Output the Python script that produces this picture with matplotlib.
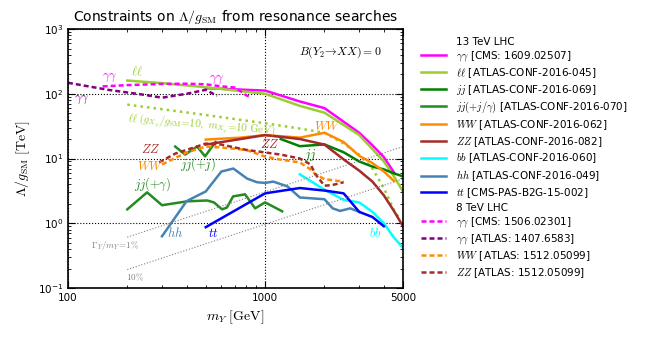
import numpy as np
import matplotlib
matplotlib.use("Agg")
import matplotlib.pyplot as plt
from matplotlib.ticker import FixedLocator, NullFormatter

plt.rcParams['mathtext.fontset'] = 'cm'
plt.rcParams['font.size'] = 7.5

# 13 TeV searches (mass in GeV, Lambda/g_SM in TeV)
aa13_m = [500, 750, 1000, 1500, 2000, 2500, 3000, 3500, 4000, 4500]
aa13_L = [122, 116, 112, 76, 60, 37, 25, 16, 10.5, 6.1]
ll13_m = [200, 300, 500, 1000, 1500, 2000, 2500, 3000, 3500, 4000, 4500, 5000]
ll13_L = [160, 146, 126, 100, 65, 51, 33, 23, 14, 9, 5.3, 3.1]
ll13v_m = [200, 500, 1000, 1500, 2000, 2500, 3000, 3500, 4000, 4500, 4800]
ll13v_L = [68, 47, 35, 29, 25, 17, 11.5, 7, 3.5, 1.6, 1.2]
jj13_m = [1200, 1500, 2000, 2500, 3000, 3500, 4000, 4500, 5000]
jj13_L = [20, 15.5, 16.5, 12.5, 9, 7.5, 6.8, 5.9, 5.3]
jjj_m = [350, 393, 452, 496, 560]
jjj_L = [15.3, 11.5, 15.3, 10.8, 18]
jja_m = [200, 252, 300, 402, 508, 550, 605, 640, 688, 791, 890, 1000, 1220]
jja_L = [1.64, 3.0, 1.9, 2.18, 2.25, 2.1, 1.64, 1.75, 2.6, 2.8, 1.7, 2.1, 1.53]
ww13_m = [500, 750, 1000, 1500, 2000, 2500, 3000, 3500, 4000, 4500]
ww13_L = [19.6, 21, 23, 21, 25, 18, 11, 8.5, 6.3, 4.5]
zz13_m = [500, 750, 1000, 1500, 2000, 2500, 3000, 3500, 4000, 4500, 5000]
zz13_L = [16.4, 20, 23, 20, 16.4, 9.7, 6.5, 4.4, 2.7, 1.55, 0.9]
bb13_m = [1500, 2000, 2500, 3000, 3500, 4000, 4500, 5000]
bb13_L = [5.7, 3.3, 2.3, 2.1, 1.5, 1.0, 0.6, 0.42]
hh13_m = [300, 400, 500, 600, 690, 810, 910, 1000, 1100, 1300, 1500, 2000, 2200, 2400, 2700, 3000]
hh13_L = [0.63, 2.2, 3.1, 6.3, 7.0, 4.9, 4.3, 4.2, 4.4, 3.7, 2.5, 2.35, 1.7, 1.55, 1.7, 1.5]
tt13_m = [500, 1000, 1500, 2000, 2500, 3000, 3500, 4000]
tt13_L = [0.87, 2.9, 3.5, 3.2, 2.9, 1.5, 1.25, 0.9]

# 8 TeV searches
aa8c_m = [150, 200, 300, 400, 500, 600, 700, 750, 800, 850]
aa8c_L = [130, 136, 142, 143, 140, 130, 125, 110, 95, 88]
aa8a_m = [100, 160, 240, 300, 400, 500, 570]
aa8a_L = [148, 115, 97, 87, 100, 115, 93]
ww8_m = [300, 400, 500, 600, 800, 1000, 1200, 1500, 1700, 1800, 2000, 2500]
ww8_L = [8.1, 12.4, 15.3, 14.8, 13.6, 10.7, 9.6, 8.7, 6.8, 5.7, 4.8, 4.4]
zz8_m = [290, 350, 400, 500, 600, 800, 1000, 1200, 1500, 1700, 1800, 2000, 2200, 2500]
zz8_L = [8.7, 11.9, 13.6, 17, 16.4, 13.6, 12.4, 11.5, 10, 8.1, 5.7, 3.8, 3.9, 4.3]

# width reference lines
width_m = [200, 5000]
width_1pc = [0.61, 15.25]
width_10pc = [0.193, 4.83]

fig = plt.figure(figsize=(6.47, 3.41), dpi=100)
ax = fig.add_axes([0.105, 0.1554, 0.5178, 0.7595])

lw = 1.8
ax.plot([], [], color='none', label='13 TeV LHC')
ax.plot(aa13_m, aa13_L, color='magenta', lw=lw, label=r'$\gamma\gamma$ [CMS: 1609.02507]')
ax.plot(ll13_m, ll13_L, color='yellowgreen', lw=lw, label=r'$\ell\ell$ [ATLAS-CONF-2016-045]')
ax.plot(ll13v_m, ll13v_L, color='yellowgreen', lw=lw, ls=':')
ax.plot(jj13_m, jj13_L, color='green', lw=lw, label=r'$jj$ [ATLAS-CONF-2016-069]')
ax.plot(jjj_m, jjj_L, color='forestgreen', lw=lw, label=r'$jj(+j/\gamma)$ [ATLAS-CONF-2016-070]')
ax.plot(jja_m, jja_L, color='forestgreen', lw=lw)
ax.plot(ww13_m, ww13_L, color='darkorange', lw=lw, label=r'$WW$ [ATLAS-CONF-2016-062]')
ax.plot(zz13_m, zz13_L, color='brown', lw=lw, label=r'$ZZ$ [ATLAS-CONF-2016-082]')
ax.plot(bb13_m, bb13_L, color='cyan', lw=lw, label=r'$bb$ [ATLAS-CONF-2016-060]')
ax.plot(hh13_m, hh13_L, color='steelblue', lw=lw, label=r'$hh$ [ATLAS-CONF-2016-049]')
ax.plot(tt13_m, tt13_L, color='blue', lw=lw, label=r'$tt$ [CMS-PAS-B2G-15-002]')
ax.plot([], [], color='none', label='8 TeV LHC')
ds = (2.0, 1.2)
ax.plot(aa8c_m, aa8c_L, color='magenta', lw=lw, ls='--', dashes=ds, label=r'$\gamma\gamma$ [CMS: 1506.02301]')
ax.plot(aa8a_m, aa8a_L, color='purple', lw=lw, ls='--', dashes=ds, label=r'$\gamma\gamma$ [ATLAS: 1407.6583]')
ax.plot(ww8_m, ww8_L, color='darkorange', lw=lw, ls='--', dashes=ds, label=r'$WW$ [ATLAS: 1512.05099]')
ax.plot(zz8_m, zz8_L, color='brown', lw=lw, ls='--', dashes=ds, label=r'$ZZ$ [ATLAS: 1512.05099]')

ax.plot(width_m, width_1pc, color='gray', lw=0.8, ls=':')
ax.plot(width_m, width_10pc, color='gray', lw=0.8, ls=':')

ax.set_xscale('log')
ax.set_yscale('log')
ax.set_xlim(100, 5000)
ax.set_ylim(0.1, 1000)
ax.xaxis.set_major_locator(FixedLocator([100, 1000, 5000]))
ax.set_xticklabels(['100', '1000', '5000'])
ax.xaxis.set_minor_formatter(NullFormatter())
ax.grid(True, which='major', ls=':', color='k', lw=0.8)
ax.tick_params(which='both', direction='in', top=True, right=True)
ax.tick_params(which='major', length=5)
ax.tick_params(which='minor', length=2.5)
for s in ax.spines.values():
    s.set_linewidth(1.2)

ax.set_title(r'Constraints on $\Lambda/g_{\rm SM}$ from resonance searches', fontsize=10)
ax.set_xlabel(r'$m_Y\ [\mathrm{GeV}]$', fontsize=10)
ax.set_ylabel(r'$\Lambda/g_{\rm SM}\ [\mathrm{TeV}]$', fontsize=10)

# curve labels
fs = 9
ax.text(570, 164, r'$\gamma\gamma$', color='magenta', fontsize=fs, ha='center', va='center')
ax.text(163, 176, r'$\gamma\gamma$', color='magenta', fontsize=fs, ha='center', va='center')
ax.text(118, 81, r'$\gamma\gamma$', color='purple', fontsize=fs, ha='center', va='center')
ax.text(224, 218, r'$\ell\ell$', color='yellowgreen', fontsize=fs, ha='center', va='center')
ax.text(200, 41, r'$\ell\ell\ (g_{X_V}/g_{\rm SM}\!=\!10,\ m_{X_V}\!=\!10\ {\rm GeV})$',
        color='yellowgreen', fontsize=7.6, ha='left', va='center', rotation=-5, rotation_mode='anchor')
ax.text(0.69, 0.91, r'$B(Y_2\!\to\! XX)=0$', transform=ax.transAxes, fontsize=8.5, ha='left', va='center')
ax.text(2065, 31, r'$WW$', color='darkorange', fontsize=fs, ha='center', va='center')
ax.text(1060, 16.4, r'$ZZ$', color='brown', fontsize=fs, ha='center', va='center')
ax.text(1690, 11.5, r'$jj$', color='green', fontsize=fs, ha='center', va='center')
ax.text(264, 13.7, r'$ZZ$', color='brown', fontsize=fs, ha='center', va='center')
ax.text(261, 7.5, r'$WW$', color='darkorange', fontsize=fs, ha='center', va='center')
ax.text(457, 8.1, r'$jj(+j)$', color='forestgreen', fontsize=fs, ha='center', va='center')
ax.text(270, 4.0, r'$jj(+\gamma)$', color='forestgreen', fontsize=fs, ha='center', va='center')
ax.text(349, 0.70, r'$hh$', color='steelblue', fontsize=fs, ha='center', va='center')
ax.text(545, 0.70, r'$tt$', color='blue', fontsize=fs, ha='center', va='center')
ax.text(3615, 0.70, r'$bb$', color='cyan', fontsize=fs, ha='center', va='center')
ax.text(173, 0.46, r'$\Gamma_Y/m_Y\!=\!1\%$', color='gray', fontsize=6.5, ha='center', va='center')
ax.text(219, 0.148, r'$10\%$', color='gray', fontsize=6.5, ha='center', va='center')

fig.legend(loc='upper left', bbox_to_anchor=(0.645, 0.905), frameon=False, fontsize=7.5,
           handlelength=2.4, handletextpad=0.9, labelspacing=0.28, borderaxespad=0)

fig.savefig('out.png', dpi=100)
